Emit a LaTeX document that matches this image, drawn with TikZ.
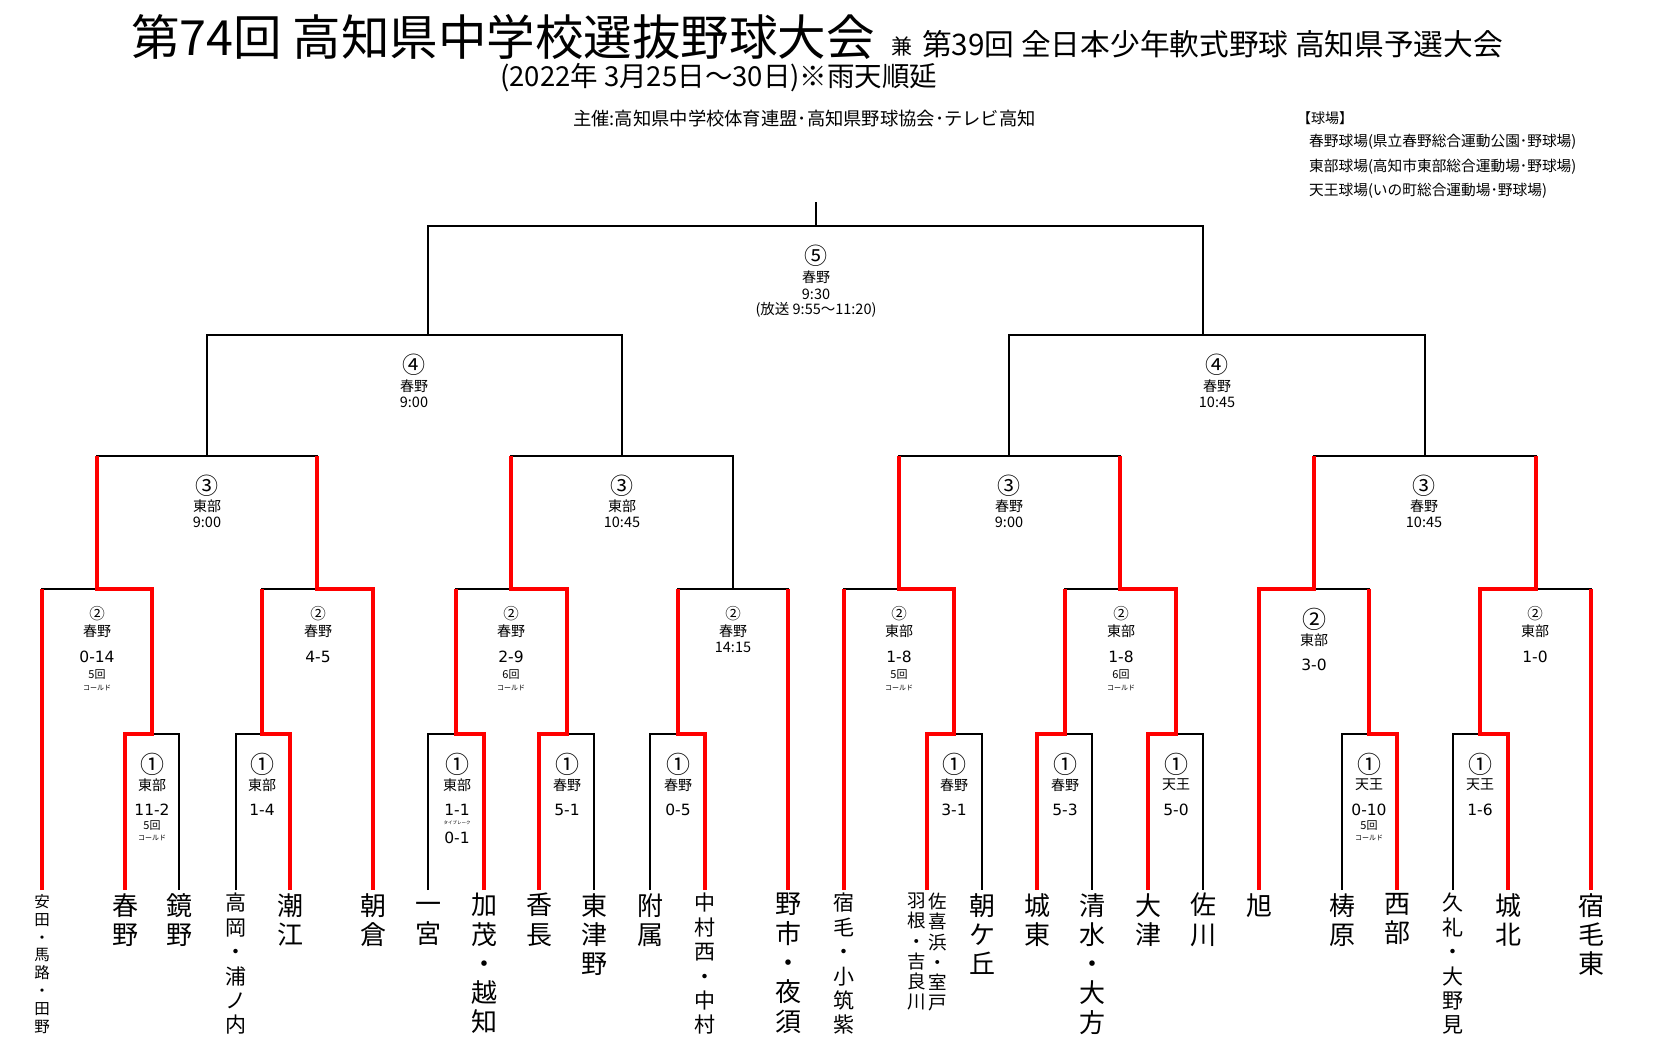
\documentclass[tikz,border=0pt]{standalone}
\usepackage{fontspec}
\newfontfamily\jpf{Noto Sans CJK JP}
\newfontfamily\scf{DejaVu Sans}
\begin{document}
\begin{tikzpicture}[x=1pt,y=-1pt,
  bl/.style={line width=1.3pt,black},
  rd/.style={line width=4.2pt,red,line join=miter},
  team/.style={anchor=north,inner sep=0pt,align=center,font=\jpf\fontsize{26}{29.3}\selectfont},
  teamS/.style={team,font=\jpf\fontsize{21}{24.4}\selectfont},
  teamXS/.style={team,font=\jpf\fontsize{15.5}{17.9}\selectfont},
  teamC/.style={team,font=\jpf\fontsize{18.5}{20.2}\selectfont},
  ven/.style={inner sep=0pt,font=\jpf\fontsize{14}{15}\selectfont},
  scr/.style={inner sep=0pt,font=\scf\fontsize{15.5}{16}\selectfont},
  circS/.style={inner sep=0pt,font=\jpf\fontsize{15.5}{16}\selectfont},
  circB/.style={inner sep=0pt,font=\jpf\fontsize{24}{25}\selectfont},
  circM/.style={inner sep=0pt,font=\jpf\fontsize{23}{24}\selectfont},
  inn/.style={inner sep=0pt,font=\jpf\fontsize{11}{12}\selectfont},
  cold/.style={inner sep=0pt,font=\jpf\fontsize{7}{8}\selectfont},
  tbk/.style={inner sep=0pt,font=\jpf\fontsize{4.5}{5}\selectfont},
  tim/.style={inner sep=0pt,font=\jpf\fontsize{14.5}{15}\selectfont},
  hdr/.style={anchor=west,inner sep=0pt}
]
\useasboundingbox[fill=white] (0,0) rectangle (1653,1050);

% ---------- header ----------
\node[hdr,font=\jpf\fontsize{48.5}{50}\selectfont] (title) at (131,37) {第74回 高知県中学校選抜野球大会};
\node[hdr,font=\jpf\fontsize{21}{22}\selectfont] (ken) at (891,46) {兼};
\node[hdr,font=\jpf\fontsize{29.7}{31}\selectfont] (title2) at (922,44) {第39回 全日本少年軟式野球 高知県予選大会};
\node[hdr,font=\jpf\fontsize{27.5}{28}\selectfont] (dates) at (500,78) {(2022年 3月25日～30日)※雨天順延};
\node[hdr,font=\jpf\fontsize{18.3}{19}\selectfont] (host) at (573,119) {主催:高知県中学校体育連盟･高知県野球協会･テレビ高知};
\node[hdr,font=\jpf\fontsize{14}{15}\selectfont] (parks) at (1297,118) {【球場】};
\node[hdr,font=\jpf\fontsize{14.7}{15}\selectfont] (park1) at (1309,142) {春野球場(県立春野総合運動公園･野球場)};
\node[hdr,font=\jpf\fontsize{14.7}{15}\selectfont] (park2) at (1309,167) {東部球場(高知市東部総合運動場･野球場)};
\node[hdr,font=\jpf\fontsize{14.7}{15}\selectfont] (park3) at (1309,191) {天王球場(いの町総合運動場･野球場)};

% ---------- coordinates ----------
\coordinate (Lyasuda) at (42,890);
\coordinate (Lharuno) at (125,890);
\coordinate (Lkagami) at (179,890);
\coordinate (Ltakaoka) at (236,890);
\coordinate (Lushioe) at (290,890);
\coordinate (Lasakura) at (373,890);
\coordinate (Lichinomiya) at (428,890);
\coordinate (Lkamo) at (484,890);
\coordinate (Lkacho) at (539,890);
\coordinate (Lhigashitsuno) at (594,890);
\coordinate (Lfuzoku) at (650,890);
\coordinate (Lnakamuranishi) at (705,890);
\coordinate (Lnoichi) at (788,890);
\coordinate (Lsukumo) at (844,890);
\coordinate (Lhane) at (927,890);
\coordinate (Lasahigaoka) at (982,890);
\coordinate (Ljoto) at (1037,890);
\coordinate (Lshimizu) at (1092,890);
\coordinate (Lotsu) at (1148,890);
\coordinate (Lsakawa) at (1203,890);
\coordinate (Lasahi) at (1259,890);
\coordinate (Lyusuhara) at (1342,890);
\coordinate (Lseibu) at (1397,890);
\coordinate (Lkure) at (1453,890);
\coordinate (Ljohoku) at (1508,890);
\coordinate (Lsukumohigashi) at (1591,890);

\coordinate (M1a) at (152,734);
\coordinate (M1b) at (262,734);
\coordinate (M1c) at (456,734);
\coordinate (M1d) at (567,734);
\coordinate (M1e) at (678,734);
\coordinate (M1f) at (954,734);
\coordinate (M1g) at (1065,734);
\coordinate (M1h) at (1176,734);
\coordinate (M1i) at (1369,734);
\coordinate (M1j) at (1480,734);

\coordinate (M2a) at (97,589);
\coordinate (M2b) at (317,589);
\coordinate (M2c) at (511,589);
\coordinate (M2d) at (733,589);
\coordinate (M2e) at (899,589);
\coordinate (M2f) at (1120,589);
\coordinate (M2g) at (1314,589);
\coordinate (M2h) at (1536,589);

\coordinate (M3a) at (207,456);
\coordinate (M3b) at (622,456);
\coordinate (M3c) at (1009,456);
\coordinate (M3d) at (1425,456);

\coordinate (M4a) at (414,335);
\coordinate (M4b) at (1217,335);
\coordinate (J4a) at (428,335);
\coordinate (J4b) at (1203,335);
\coordinate (M5) at (816,226);
\coordinate (T5) at (816,202);

% ---------- black bracket ----------
\draw[bl] (Lharuno) |- (M1a) -| (Lkagami);
\draw[bl] (Ltakaoka) |- (M1b) -| (Lushioe);
\draw[bl] (Lichinomiya) |- (M1c) -| (Lkamo);
\draw[bl] (Lkacho) |- (M1d) -| (Lhigashitsuno);
\draw[bl] (Lfuzoku) |- (M1e) -| (Lnakamuranishi);
\draw[bl] (Lhane) |- (M1f) -| (Lasahigaoka);
\draw[bl] (Ljoto) |- (M1g) -| (Lshimizu);
\draw[bl] (Lotsu) |- (M1h) -| (Lsakawa);
\draw[bl] (Lyusuhara) |- (M1i) -| (Lseibu);
\draw[bl] (Lkure) |- (M1j) -| (Ljohoku);

\draw[bl] (Lyasuda) |- (M2a) -| (M1a);
\draw[bl] (M1b) |- (M2b) -| (Lasakura);
\draw[bl] (M1c) |- (M2c) -| (M1d);
\draw[bl] (M1e) |- (M2d) -| (Lnoichi);
\draw[bl] (Lsukumo) |- (M2e) -| (M1f);
\draw[bl] (M1g) |- (M2f) -| (M1h);
\draw[bl] (Lasahi) |- (M2g) -| (M1i);
\draw[bl] (M1j) |- (M2h) -| (Lsukumohigashi);

\draw[bl] (M2a) |- (M3a) -| (M2b);
\draw[bl] (M2c) |- (M3b) -| (M2d);
\draw[bl] (M2e) |- (M3c) -| (M2f);
\draw[bl] (M2g) |- (M3d) -| (M2h);

\draw[bl] (M3a) |- (M4a) -| (M3b);
\draw[bl] (M3c) |- (M4b) -| (M3d);
\draw[bl] (J4a) |- (M5) -| (J4b);
\draw[bl] (M5) -- (T5);

% ---------- red winner paths ----------
\draw[rd] (Lyasuda) -- (Lyasuda |- M2a);
\draw[rd] (Lharuno) |- (M1a) |- (M2a) -- (M2a |- M3a);
\draw[rd] (Lushioe) |- (M1b) -- (M1b |- M2b);
\draw[rd] (Lasakura) |- (M2b) -- (M2b |- M3a);
\draw[rd] (Lkamo) |- (M1c) -- (M1c |- M2c);
\draw[rd] (Lkacho) |- (M1d) |- (M2c) -- (M2c |- M3b);
\draw[rd] (Lnakamuranishi) |- (M1e) -- (M1e |- M2d);
\draw[rd] (Lnoichi) -- (Lnoichi |- M2d);
\draw[rd] (Lsukumo) -- (Lsukumo |- M2e);
\draw[rd] (Lhane) |- (M1f) |- (M2e) -- (M2e |- M3c);
\draw[rd] (Ljoto) |- (M1g) -- (M1g |- M2f);
\draw[rd] (Lotsu) |- (M1h) |- (M2f) -- (M2f |- M3c);
\draw[rd] (Lasahi) |- (M2g) -- (M2g |- M3d);
\draw[rd] (Lseibu) |- (M1i) -- (M1i |- M2g);
\draw[rd] (Ljohoku) |- (M1j) |- (M2h) -- (M2h |- M3d);
\draw[rd] (Lsukumohigashi) -- (Lsukumohigashi |- M2h);

% ---------- round 1 labels ----------
\foreach \n/\x/\v/\s in {1a/152/東部/11-2, 1b/262/東部/1-4, 1d/567/春野/5-1, 1e/678/春野/0-5, 1f/954/春野/3-1, 1g/1065/春野/5-3, 1h/1176/天王/5-0, 1i/1369/天王/0-10, 1j/1480/天王/1-6}{
  \node[circB] (c\n) at (\x,764) {①};
  \node[ven] (v\n) at (\x,785) {\v};
  \node[scr] (s\n) at (\x,810) {\s};
}
\node[circB] (c1c) at (457,764) {①};
\node[ven] (v1c) at (457,785) {東部};
\node[scr] (s1c) at (457,810) {1-1};
\node[tbk] (t1c) at (457,823) {タイブレーク};
\node[scr] (u1c) at (457,838) {0-1};
\node[inn] (i1a) at (152,826) {5回};
\node[cold] (k1a) at (152,838) {コールド};
\node[inn] (i1i) at (1369,826) {5回};
\node[cold] (k1i) at (1369,838) {コールド};

% ---------- round 2 labels ----------
\foreach \n/\x/\v/\s in {2a/97/春野/0-14, 2b/318/春野/4-5, 2c/511/春野/2-9, 2e/899/東部/1-8, 2f/1121/東部/1-8, 2h/1535/東部/1-0}{
  \node[circS] (c\n) at (\x,614) {②};
  \node[ven] (v\n) at (\x,631) {\v};
  \node[scr] (s\n) at (\x,657) {\s};
}
\node[circS] (c2d) at (733,614) {②};
\node[ven] (v2d) at (733,631) {春野};
\node[tim] (s2d) at (733,647) {14:15};
\node[circB] (c2g) at (1314,619) {②};
\node[ven] (v2g) at (1314,640) {東部};
\node[scr] (s2g) at (1314,665) {3-0};
\node[inn] (i2a) at (97,675) {5回};
\node[cold] (k2a) at (97,688) {コールド};
\node[inn] (i2c) at (511,675) {6回};
\node[cold] (k2c) at (511,688) {コールド};
\node[inn] (i2e) at (899,675) {5回};
\node[cold] (k2e) at (899,688) {コールド};
\node[inn] (i2f) at (1121,675) {6回};
\node[cold] (k2f) at (1121,688) {コールド};

% ---------- rounds 3-5 labels ----------
\foreach \n/\x/\v/\t in {3a/207/東部/9:00, 3b/622/東部/10:45, 3c/1009/春野/9:00, 3d/1424/春野/10:45}{
  \node[circM] (c\n) at (\x,486) {③};
  \node[ven] (v\n) at (\x,506) {\v};
  \node[tim] (t\n) at (\x,522) {\t};
}
\foreach \n/\x/\t in {4a/414/9:00, 4b/1217/10:45}{
  \node[circM] (c\n) at (\x,365) {④};
  \node[ven] (v\n) at (\x,386) {春野};
  \node[tim] (t\n) at (\x,402) {\t};
}
\node[circM] (c5) at (816,256) {⑤};
\node[ven] (v5) at (816,277) {春野};
\node[tim] (t5) at (816,294) {9:30};
\node[tim] (b5) at (816,310) {(放送 9:55～11:20)};

% ---------- team names ----------
\node[teamXS] (n01) at (42,894) {安\\田\\・\\馬\\路\\・\\田\\野};
\node[team] (n02) at (125,893) {春\\野};
\node[team] (n03) at (179,893) {鏡\\野};
\node[teamS] (n04) at (236,893) {高\\岡\\・\\浦\\ノ\\内};
\node[team] (n05) at (290,893) {潮\\江};
\node[team] (n06) at (373,893) {朝\\倉};
\node[team] (n07) at (428,893) {\vphantom{国}一\\宮};
\node[team] (n08) at (484,893) {加\\茂\\・\\越\\知};
\node[team] (n09) at (539,893) {香\\長};
\node[team] (n10) at (594,893) {東\\津\\野};
\node[team] (n11) at (650,893) {附\\属};
\node[teamS] (n12) at (705,893) {中\\村\\西\\・\\中\\村};
\node[team] (n13) at (788,893) {野\\市\\・\\夜\\須};
\node[teamS] (n14) at (844,893) {宿\\毛\\・\\小\\筑\\紫};
\node[teamC] (n15a) at (938,893) {佐\\喜\\浜\\・\\室\\戸};
\node[teamC] (n15b) at (917,893) {羽\\根\\・\\吉\\良\\川};
\node[team] (n16) at (982,893) {朝\\ケ\\丘};
\node[team] (n17) at (1037,893) {城\\東};
\node[team] (n18) at (1092,893) {清\\水\\・\\大\\方};
\node[team] (n19) at (1148,893) {大\\津};
\node[team] (n20) at (1203,893) {佐\\川};
\node[team] (n21) at (1259,893) {旭};
\node[team] (n22) at (1342,893) {梼\\原};
\node[team] (n23) at (1397,893) {西\\部};
\node[teamS] (n24) at (1453,893) {久\\礼\\・\\大\\野\\見};
\node[team] (n25) at (1508,893) {城\\北};
\node[team] (n26) at (1591,893) {宿\\毛\\東};
\end{tikzpicture}
\end{document}
